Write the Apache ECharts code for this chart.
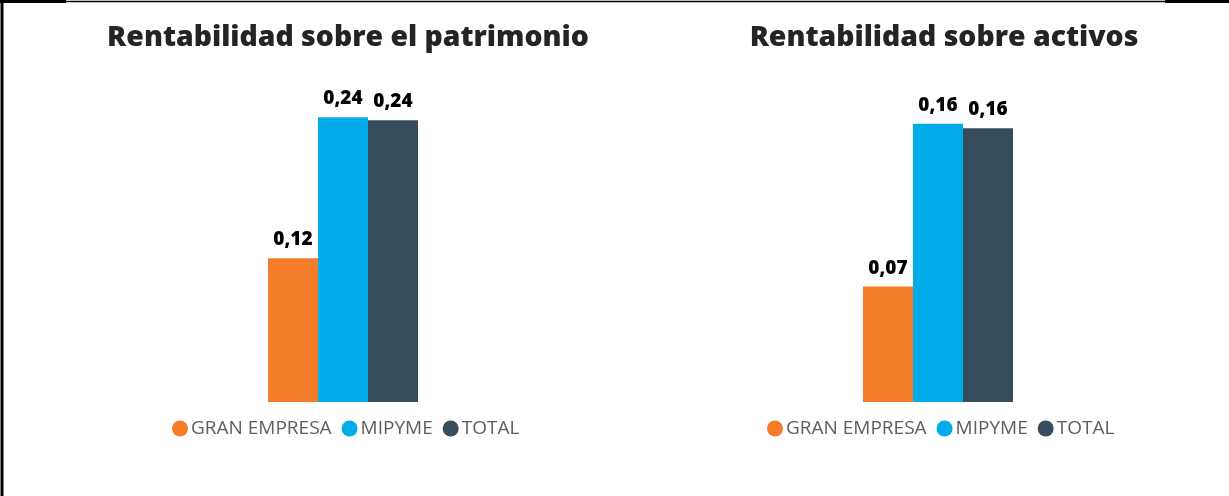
<!DOCTYPE html>
<html>
<head>
<meta charset="utf-8">
<script src="https://cdn.jsdelivr.net/npm/echarts@6/dist/echarts.min.js"></script>
<style>
  html, body { margin: 0; padding: 0; background: #fff; }
  #chart { width: 1229px; height: 496px; }
</style>
</head>
<body>
<div id="chart"></div>
<script>
// Data
const titles = ['Rentabilidad sobre el patrimonio', 'Rentabilidad sobre activos'];
const seriesNames = ['GRAN EMPRESA', 'MIPYME', 'TOTAL'];
const seriesColors = ['#F47D2B', '#02ACEB', '#374D5C'];
const roeValues = [0.121, 0.2395, 0.237];   // patrimonio
const roaValues = [0.067, 0.1616, 0.159];   // activos

const chart = echarts.init(document.getElementById('chart'));

const fontFamily = '"Open Sans", "Noto Sans", sans-serif';

function fmt(p) {
    return p.value.toFixed(2).replace('.', ',');
}

function buildSeries(values, idx) {
    return values.map((v, i) => ({
        name: seriesNames[i],
        type: 'bar',
        xAxisIndex: idx,
        yAxisIndex: idx,
        data: [v],
        barWidth: 50,
        barGap: '0%',
        itemStyle: { color: seriesColors[i] },
        label: {
            show: true,
            position: 'top',
            distance: 9,
            formatter: fmt,
            color: '#000',
            fontWeight: 800,
            fontSize: 19,
            fontFamily: fontFamily
        }
    }));
}

const legendBase = {
    icon: 'circle',
    itemWidth: 16,
    itemHeight: 16,
    itemGap: 10,
    top: 414,
    data: seriesNames,
    textStyle: { color: '#605E5C', fontSize: 19, fontFamily: fontFamily, padding: [0, 0, 0, -2] }
};

const titleStyle = { fontSize: 28.4, fontWeight: 800, color: '#252423', fontFamily: fontFamily };

const option = {
    animation: false,
    title: [
        { text: titles[0], left: 343, top: 19, textAlign: 'center', textStyle: titleStyle },
        { text: titles[1], left: 939, top: 19, textAlign: 'center', textStyle: titleStyle }
    ],
    legend: [
        Object.assign({ left: 167 }, legendBase),
        Object.assign({ left: 762 }, legendBase)
    ],
    grid: [
        { left: 243, width: 200, top: 81, bottom: 94 },
        { left: 838, width: 200, top: 92, bottom: 94 }
    ],
    xAxis: [
        { type: 'category', gridIndex: 0, data: [''], show: false },
        { type: 'category', gridIndex: 1, data: [''], show: false }
    ],
    yAxis: [
        { type: 'value', gridIndex: 0, min: 0, max: 0.27, show: false, splitLine: { show: false } },
        { type: 'value', gridIndex: 1, min: 0, max: 0.18, show: false, splitLine: { show: false } }
    ],
    graphic: [
        { type: 'line', shape: { x1: 2, y1: 0, x2: 2, y2: 496 }, style: { stroke: '#000', lineWidth: 3 } },
        { type: 'line', shape: { x1: 0, y1: 1.5, x2: 66, y2: 1.5 }, style: { stroke: '#000', lineWidth: 3 } },
        { type: 'line', shape: { x1: 66, y1: 1.5, x2: 1165, y2: 1.5 }, style: { stroke: '#000', lineWidth: 1.5 } },
        { type: 'line', shape: { x1: 1165, y1: 1.5, x2: 1229, y2: 1.5 }, style: { stroke: '#000', lineWidth: 3 } }
    ],
    series: buildSeries(roeValues, 0).concat(buildSeries(roaValues, 1))
};

chart.setOption(option);
</script>
</body>
</html>
